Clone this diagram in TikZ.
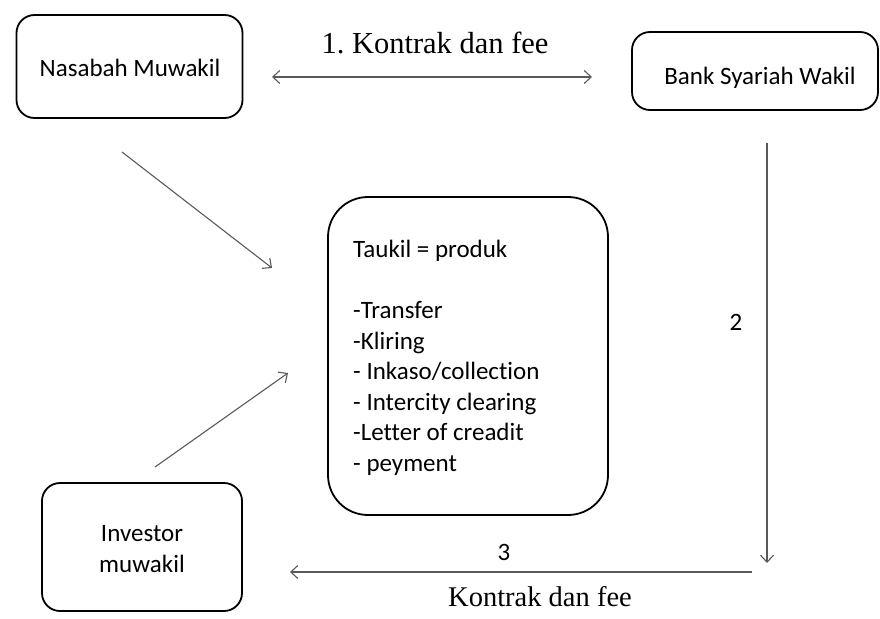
\documentclass[tikz,border=0pt]{standalone}
\usepackage{fontspec}
\setmainfont{Carlito}[Ligatures=NoCommon]
\newfontfamily\labelfont{Liberation Serif}
\usetikzlibrary{arrows.meta}
\tikzset{
  box/.style={draw=black, line width=1.8pt, rounded corners=18pt, inner sep=0pt},
  boxtext/.style={font=\fontsize{25}{31.5}\selectfont, align=center, inner sep=0pt},
  conn/.style={draw=black!65, line width=1.1pt,
    -{Straight Barb[length=7pt,width=13pt,line width=1.1pt]}},
  biconn/.style={draw=black!65, line width=1.1pt,
    {Straight Barb[length=7pt,width=13pt,line width=1.1pt]}-{Straight Barb[length=7pt,width=13pt,line width=1.1pt]}},
  lbl/.style={font=\labelfont\fontsize{28.5}{32}\selectfont, inner sep=0pt, anchor=base},
  num/.style={font=\fontsize{25}{30}\selectfont, inner sep=0pt}
}
\begin{document}
\begin{tikzpicture}[x=1pt,y=-1pt]
\useasboundingbox (0,0) rectangle (880,618);
% boxes
\node[box, minimum width=226pt, minimum height=103pt] (nas) at (129.5,66.5) {};
\node[boxtext] (nast) at (130,68) {Nasabah Muwakil};
\node[box, minimum width=246pt, minimum height=78pt] (bank) at (755,71) {};
\node[boxtext] (bankt) at (760,78) {Bank Syariah Wakil};
\node[box, rounded corners=40pt, minimum width=280pt, minimum height=318pt] (prod) at (468,356) {};
\node[font=\fontsize{25}{30.5}\selectfont, align=left, inner sep=0pt, anchor=north west]
  (prodt) at (353,240)
  {Taukil = produk\\[30.5pt]-Transfer\\-Kliring\\- Inkaso/collection\\- Intercity clearing\\-Letter of creadit\\- peyment};
\node[box, minimum width=200pt, minimum height=128pt] (inv) at (142,547) {};
\node[boxtext] (invt) at (142,549) {Investor\\muwakil};
% connector end points
\coordinate (c1a) at (272,77);
\coordinate (c1b) at (592,77);
\coordinate (n1) at (122,152);
\coordinate (n2) at (272,268);
\coordinate (i1) at (155,467);
\coordinate (i2) at (288,373);
\coordinate (v1) at (767,143);
\coordinate (v2) at (767,563);
\coordinate (h1) at (752,572);
\coordinate (h2) at (290,572);
% connectors
\draw[biconn] (c1a) -- (c1b);
\draw[conn] (n1) -- (n2);
\draw[conn] (i1) -- (i2);
\draw[conn] (v1) -- (v2);
\draw[conn] (h1) -- (h2);
% labels
\node[lbl, font=\labelfont\fontsize{30.5}{32}\selectfont] (l1) at (435,53) {1.\ Kontrak dan fee};
\node[num] (l2) at (736,322) {2};
\node[num] (l3) at (504,552) {3};
\node[lbl] (l4) at (540,606) {Kontrak dan fee};
\end{tikzpicture}
\end{document}
